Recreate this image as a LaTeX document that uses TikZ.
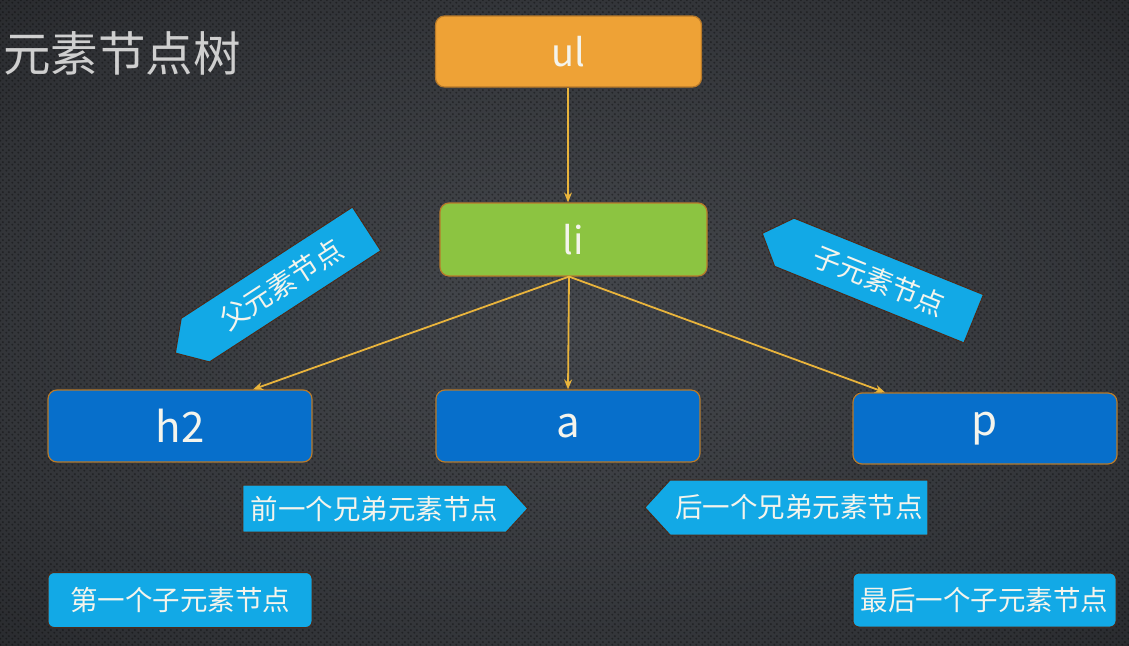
\documentclass[tikz,border=0pt]{standalone}
\usepackage{fontspec}
\setmainfont{Noto Sans CJK SC}
\usetikzlibrary{shapes.symbols,arrows.meta,patterns.meta}

\definecolor{bgin}{HTML}{45484D}
\definecolor{bgmid}{HTML}{313337}
\definecolor{bgout}{HTML}{1B1C1F}
\definecolor{orangec}{HTML}{EEA236}
\definecolor{greenc}{HTML}{8CC441}
\definecolor{bluec}{HTML}{076FCB}
\definecolor{lblue}{HTML}{12A9E6}
\definecolor{boxedge}{HTML}{B87A2A}
\definecolor{lbledge}{HTML}{4A2A1A}
\definecolor{arrowc}{HTML}{E9B43C}
\definecolor{txt}{HTML}{F4F4EC}
\definecolor{titlec}{HTML}{CFCFCF}

\pgfdeclareradialshading{bgshade}{\pgfpoint{0bp}{0bp}}{color(0bp)=(bgin); color(28bp)=(bgmid); color(50bp)=(bgout)}

\tikzdeclarepattern{
  name=bgdots, type=uncolored,
  bounding box={(0pt,0pt) and (6pt,6pt)},
  tile size={(6pt,6pt)},
  code={\fill (1.5pt,1.5pt) circle (1.2pt); \fill (4.5pt,4.5pt) circle (1.2pt);}
}

\begin{document}
\begin{tikzpicture}[x=1pt,y=-1pt,
  nodebox/.style={rectangle, rounded corners=9pt, draw=boxedge, line width=1.2pt,
    text=txt, inner sep=0pt, minimum width=264pt, minimum height=72pt,
    font=\fontsize{38}{40}\selectfont},
  lbl/.style={fill=lblue, draw=lbledge, line width=1pt, text=txt, inner sep=0pt,
    font=\fontsize{27.5}{29}\selectfont},
  sig/.style={lbl, shape=signal, signal pointer angle=95},
  conn/.style={draw=arrowc, line width=1.8pt, -{Stealth[length=10pt,width=8pt]}}
]
\useasboundingbox (0,0) rectangle (1129,645);
\shade[shading=bgshade] (0,0) rectangle (1129,645);
\fill[pattern=bgdots, pattern color=black, opacity=0.35] (0,0) rectangle (1129,645);

\node[anchor=west, inner sep=0pt, text=titlec, font=\fontsize{47.5}{49}\selectfont] (title) at (3,53) {元素节点树};

\node[nodebox, fill=orangec, minimum width=266pt, minimum height=71pt] (ul) at (568.5,51.5) {ul};
\node[nodebox, fill=greenc, minimum width=267pt, minimum height=73pt] (li) at (573.5,239.5) {li};
\node[nodebox, fill=bluec, font=\fontsize{42}{44}\selectfont] (h2) at (180,426) {h2};
\node[nodebox, fill=bluec, font=\fontsize{42}{44}\selectfont] (a) at (568,426) {a};
\node[nodebox, fill=bluec, font=\fontsize{42}{44}\selectfont, minimum height=71pt] (p) at (985,428.5) {p};

\draw[conn, line width=1.3pt] ([xshift=-0.5pt]ul.south) -- ([xshift=-0.5pt]ul.south |- li.north);
\draw[conn] ([xshift=-4.5pt]li.south) -- ([xshift=73pt]h2.north);
\draw[conn] ([xshift=-4.5pt]li.south) -- (a.north);
\draw[conn] ([xshift=-4.5pt]li.south) -- ([xshift=-100pt]p.north);

\node[sig, signal to=west, rotate=33, minimum width=228pt, minimum height=52pt,
  font=\fontsize{28}{30}\selectfont] (parent) at (281,284.5) {父元素节点};
\node[sig, signal to=west, rotate=-22, minimum width=228pt, minimum height=52pt,
  font=\fontsize{28}{30}\selectfont] (child) at (879,280.5) {子元素节点};

\node[sig, signal to=east, minimum width=285pt, minimum height=47pt] (prev) at (374.5,508.5) {前一个兄弟元素节点};
\node[sig, signal to=west, minimum width=283pt, minimum height=55pt] (next) at (799,507.5) {后一个兄弟元素节点};

\node[lbl, rounded corners=6pt, minimum width=264pt, minimum height=55pt] (first) at (180,600) {第一个子元素节点};
\node[lbl, rounded corners=6pt, minimum width=263pt, minimum height=54pt] (last) at (984.5,600) {最后一个子元素节点};
\end{tikzpicture}
\end{document}
